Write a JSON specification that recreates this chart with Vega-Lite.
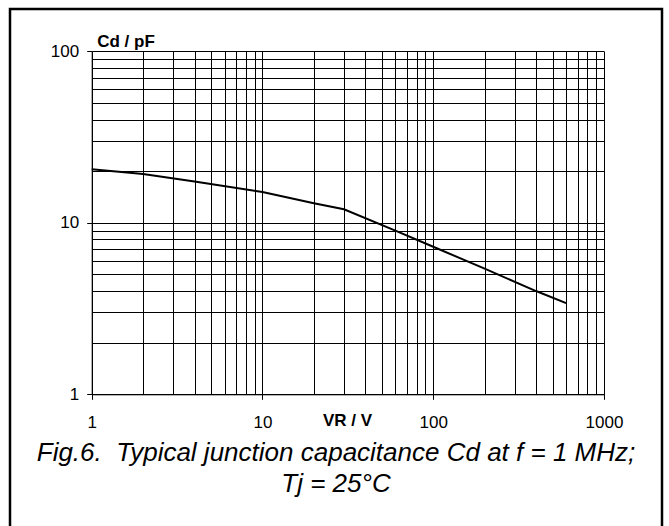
{
  "$schema": "https://vega.github.io/schema/vega-lite/v6.json",
  "width": 652,
  "height": 521,
  "autosize": {"type": "none"},
  "padding": {"left": 10, "top": 9, "right": 7, "bottom": -4},
  "background": "white",
  "title": {
    "text": ["Fig.6.\u00a0 Typical junction capacitance Cd at f = 1 MHz;", "Tj = 25°C"],
    "orient": "bottom",
    "anchor": "middle",
    "frame": "group",
    "offset": -90,
    "font": "Liberation Sans",
    "fontSize": 26,
    "fontStyle": "italic",
    "fontWeight": "normal",
    "color": "black",
    "lineHeight": 31,
    "baseline": "top"
  },
  "config": {
    "view": {"stroke": "black", "strokeWidth": 2.5},
    "font": "Liberation Sans"
  },
  "data": {
    "values": [
      {"VR": 1, "Cd": 20.5},
      {"VR": 2, "Cd": 19.25},
      {"VR": 4, "Cd": 17.4},
      {"VR": 10, "Cd": 15.1},
      {"VR": 20, "Cd": 13.0},
      {"VR": 30, "Cd": 12.0},
      {"VR": 60, "Cd": 9.0},
      {"VR": 100, "Cd": 7.25},
      {"VR": 200, "Cd": 5.4},
      {"VR": 400, "Cd": 4.0},
      {"VR": 600, "Cd": 3.4}
    ]
  },
  "mark": {"type": "line", "color": "black", "strokeWidth": 2},
  "encoding": {
    "x": {
      "field": "VR",
      "type": "quantitative",
      "scale": {"type": "log", "domain": [1, 1000], "range": [81.7, 594], "nice": false},
      "axis": {
        "orient": "top",
        "title": "VR / V",
        "values": [1,2,3,4,5,6,7,8,9,10,20,30,40,50,60,70,80,90,100,200,300,400,500,600,700,800,900,1000],
        "format": "d",
        "labelExpr": "indexof([1,10,100,1000], datum.value) >= 0 ? datum.label : ''",
        "grid": true,
        "gridColor": "black",
        "gridWidth": 1,
        "gridOpacity": 1,
        "domain": true,
        "domainColor": "black",
        "domainWidth": 1,
        "ticks": true,
        "tickColor": "black",
        "tickSize": -5,
        "tickWidth": 1,
        "tickOpacity": {"condition": {"test": "indexof([1,10,100,1000], datum.value) >= 0", "value": 1}, "value": 0},
        "labelPadding": -15,
        "labelBaseline": "top",
        "labelFont": "Liberation Sans",
        "labelFontSize": 17,
        "labelColor": "black",
        "labelOverlap": false,
        "labelFlush": false,
        "labelBound": false,
        "offset": -385.3,
        "titleFont": "Liberation Sans",
        "titleFontSize": 17,
        "titleFontWeight": "bold",
        "titleColor": "black",
        "titleX": 337,
        "titleY": 31,
        "titleAlign": "center",
        "titleBaseline": "alphabetic"
      }
    },
    "y": {
      "field": "Cd",
      "type": "quantitative",
      "scale": {"type": "log", "domain": [1, 100], "range": [385.3, 42.3], "nice": false},
      "axis": {
        "title": "Cd / pF",
        "values": [1,2,3,4,5,6,7,8,9,10,20,30,40,50,60,70,80,90,100],
        "format": "d",
        "labelExpr": "indexof([1,10,100], datum.value) >= 0 ? datum.label : ''",
        "grid": true,
        "gridColor": "black",
        "gridWidth": 1,
        "gridOpacity": 1,
        "domain": true,
        "domainColor": "black",
        "domainWidth": 1,
        "ticks": true,
        "tickColor": "black",
        "tickSize": 5,
        "tickWidth": 1,
        "tickOpacity": {"condition": {"test": "indexof([1,10,100], datum.value) >= 0", "value": 1}, "value": 0},
        "labelPadding": 8,
        "labelFont": "Liberation Sans",
        "labelFontSize": 17,
        "labelColor": "black",
        "labelOverlap": false,
        "labelFlush": false,
        "labelBound": false,
        "offset": -81.7,
        "titleFont": "Liberation Sans",
        "titleFontSize": 17,
        "titleFontWeight": "bold",
        "titleColor": "black",
        "titleAngle": 0,
        "titleX": 5,
        "titleY": 37.7,
        "titleAlign": "left",
        "titleBaseline": "alphabetic"
      }
    }
  }
}
